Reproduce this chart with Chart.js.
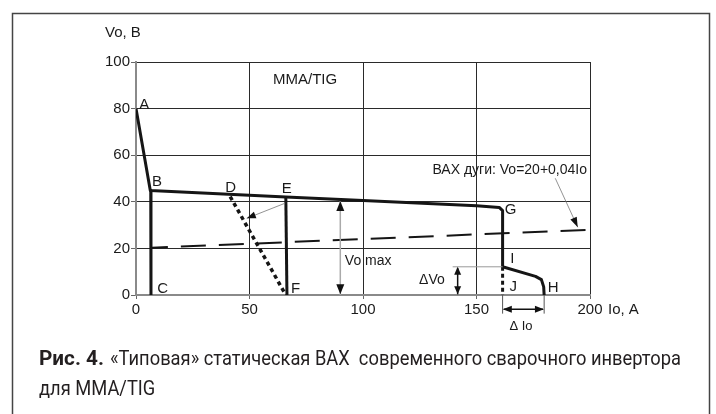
<!DOCTYPE html>
<html>
<head>
<meta charset="utf-8">
<script src="https://cdn.jsdelivr.net/npm/chart.js@4"></script>
<style>
html, body { margin: 0; padding: 0; background: #fff; }
canvas { display: block; }
</style>
</head>
<body>
<canvas id="vax" width="716" height="414"></canvas>
<script>
// ticks
const xTicks = [0, 50, 100, 150, 200]
const yTicks = [0, 20, 40, 60, 80, 100]

// main curve A - B - E - G - I - H
const mainIo = [0, 6.3, 66, 100, 150, 160, 161.5, 161.5, 176, 178.6, 179.6, 179.8]
const mainVo = [80, 44.8, 42.1, 40.6, 38.3, 37.6, 36.2, 12.1, 8, 6.6, 3.5, 0]
// B - C
const bcIo = [6.5, 6.6]
const bcVo = [44.8, 0]
// E - F
const efIo = [66, 66.5]
const efVo = [42.1, 0]
// D - F (dotted)
const dfIo = [41.5, 66]
const dfVo = [42.2, 0]
// I - J (dotted)
const ijIo = [161.5, 161.5]
const ijVo = [12.1, 0]
// arc line Vo=20+0,04Io (dashed)
const arcIo = [7, 200]
const arcVo = [20.3, 28]

// point names
const pointNames = ['A', 'B', 'C', 'D', 'E', 'F', 'G', 'I', 'J', 'H']
const nameIo = [3.6, 9.2, 11.8, 41.7, 66.4, 70.3, 165, 165.8, 166.2, 183.8]
const nameVo = [81.6, 48.4, 2.8, 46, 45.6, 2.8, 36.6, 15.6, 3.3, 3.1]

const toXY = (xs, ys) => xs.map((v, i) => ({ x: v, y: ys[i] }))

function line(label, xs, ys, width, dash, offset) {
    return {
        label: label,
        data: toXY(xs, ys),
        showLine: true,
        borderColor: '#151515',
        borderWidth: width,
        borderDash: dash || [],
        borderDashOffset: offset || 0,
        borderJoinStyle: 'round',
        borderCapStyle: 'butt',
        pointRadius: 0,
        fill: false
    }
}

function arrowHead(ctx, fx, fy, tx, ty, len, half) {
    const a = Math.atan2(ty - fy, tx - fx)
    ctx.beginPath()
    ctx.moveTo(tx, ty)
    ctx.lineTo(tx - len * Math.cos(a) + half * Math.sin(a), ty - len * Math.sin(a) - half * Math.cos(a))
    ctx.lineTo(tx - len * Math.cos(a) - half * Math.sin(a), ty - len * Math.sin(a) + half * Math.cos(a))
    ctx.closePath()
    ctx.fill()
}

const extras = {
    id: 'extras',
    afterDraw(chart) {
        const { ctx, scales: { x, y } } = chart
        const px = v => x.getPixelForValue(v)
        const py = v => y.getPixelForValue(v)
        ctx.save()

        // frame
        ctx.strokeStyle = '#444'
        ctx.lineWidth = 1.5
        ctx.strokeRect(12.5, 13.5, 697, 430)

        ctx.fillStyle = '#1a1a1a'
        ctx.textBaseline = 'middle'

        // axis titles
        ctx.font = '15px "Liberation Sans", Arial, sans-serif'
        ctx.textAlign = 'left'
        ctx.fillText('Vo, B', 105, 33)
        ctx.fillText('Io, A', 608, 310)
        ctx.fillText('MMA/TIG', 273, 80)

        // point names
        ctx.font = '15px "Liberation Sans", Arial, sans-serif'
        ctx.textAlign = 'center'
        pointNames.forEach((n, i) => ctx.fillText(n, px(nameIo[i]), py(nameVo[i])))

        // other labels
        ctx.textAlign = 'left'
        ctx.font = '14px "Liberation Sans", Arial, sans-serif'
        ctx.fillText('ВАХ дуги: Vo=20+0,04Io', px(130.6), py(53.4))
        ctx.fillText('Vo max', px(92), py(14.6))
        ctx.fillText('ΔVo', px(124.7), py(6.4))
        ctx.font = '13px "Liberation Sans", Arial, sans-serif'
        ctx.textAlign = 'center'
        ctx.fillText('Δ Io', px(169.6), py(-13.4))

        // Vo max arrow
        ctx.strokeStyle = '#aaa'
        ctx.lineWidth = 1.5
        ctx.beginPath(); ctx.moveTo(px(90), py(40.3)); ctx.lineTo(px(90), py(0)); ctx.stroke()
        ctx.fillStyle = '#111'
        arrowHead(ctx, px(90), py(20), px(90), py(40.3), 10, 4)
        arrowHead(ctx, px(90), py(20), px(90), py(0.3), 10, 4)

        // ΔVo arrow
        ctx.strokeStyle = '#999'
        ctx.lineWidth = 1
        ctx.beginPath(); ctx.moveTo(px(139.5), py(12.1)); ctx.lineTo(px(161.5), py(12.1)); ctx.stroke()
        ctx.strokeStyle = '#111'
        ctx.lineWidth = 1.5
        ctx.beginPath(); ctx.moveTo(px(141.7), py(11.5)); ctx.lineTo(px(141.7), py(0.3)); ctx.stroke()
        arrowHead(ctx, px(141.7), py(6), px(141.7), py(12.1), 8, 3.5)
        arrowHead(ctx, px(141.7), py(6), px(141.7), py(0.3), 8, 3.5)

        // ΔIo arrow
        ctx.strokeStyle = '#555'
        ctx.lineWidth = 1
        ctx.beginPath()
        ctx.moveTo(px(161.5), py(0)); ctx.lineTo(px(161.5), py(-8))
        ctx.moveTo(px(179.8), py(0)); ctx.lineTo(px(179.8), py(-8))
        ctx.stroke()
        ctx.strokeStyle = '#111'
        ctx.lineWidth = 1.5
        ctx.beginPath(); ctx.moveTo(px(162), py(-6.1)); ctx.lineTo(px(179.3), py(-6.1)); ctx.stroke()
        arrowHead(ctx, px(170), py(-6.1), px(161.6), py(-6.1), 9, 3.5)
        arrowHead(ctx, px(170), py(-6.1), px(179.7), py(-6.1), 9, 3.5)

        // leader to arc line
        ctx.strokeStyle = '#777'
        ctx.lineWidth = 0.8
        ctx.beginPath(); ctx.moveTo(px(184.7), py(50.1)); ctx.lineTo(px(194.6), py(29.1)); ctx.stroke()
        arrowHead(ctx, px(184.7), py(50.1), px(194.6), py(29.1), 10, 3.5)

        // leader from E to D-F line
        ctx.beginPath(); ctx.moveTo(px(65.7), py(39.4)); ctx.lineTo(px(48.8), py(32.9)); ctx.stroke()
        arrowHead(ctx, px(65.7), py(39.4), px(48.8), py(32.9), 9, 3.5)

        // caption
        ctx.fillStyle = '#231f20'
        ctx.textBaseline = 'alphabetic'
        ctx.textAlign = 'left'
        const boldFont = 'bold 21px Roboto, sans-serif'
        const regFont = '21px Roboto, sans-serif'
        const cap1 = 'Рис. 4.'
        const cap2 = '«Типовая» статическая ВАХ  современного сварочного инвертора'
        const cap3 = 'для MMA/TIG'
        ctx.font = boldFont
        const kb = 65 / ctx.measureText(cap1).width
        ctx.font = regFont
        const kr = 571 / ctx.measureText(cap2).width
        ctx.save(); ctx.translate(39, 365); ctx.scale(kb, 1); ctx.font = boldFont; ctx.fillText(cap1, 0, 0); ctx.restore()
        ctx.save(); ctx.translate(110, 365); ctx.scale(kr, 1); ctx.font = regFont; ctx.fillText(cap2, 0, 0); ctx.restore()
        ctx.save(); ctx.translate(39, 395); ctx.scale(kr, 1); ctx.font = regFont; ctx.fillText(cap3, 0, 0); ctx.restore()

        ctx.restore()
    }
}

const gridColor = c => c.tick && c.tick.value === 0 ? 'rgba(0,0,0,0)' : '#2a2a2a'

const ctx = document.getElementById('vax').getContext('2d')
const myChart = new Chart(ctx, {
    type: 'scatter',
    data: {
        datasets: [
            line('A-B-G-I-H', mainIo, mainVo, 3),
            line('B-C', bcIo, bcVo, 3),
            line('E-F', efIo, efVo, 3),
            line('D-F', dfIo, dfVo, 3.5, [4, 3.5]),
            line('I-J', ijIo, ijVo, 3, [4, 3]),
            line('Vo=20+0,04Io', arcIo, arcVo, 2, [25, 13], 9)
        ]
    },
    options: {
        responsive: false,
        animation: false,
        layout: { padding: { left: 0, top: 62, right: 126, bottom: 0 } },
        plugins: {
            legend: { display: false },
            tooltip: { enabled: false }
        },
        scales: {
            x: {
                type: 'linear',
                min: 0,
                max: 200,
                afterBuildTicks: s => { s.ticks = xTicks.map(v => ({ value: v })) },
                afterFit: s => { s.height = 119 },
                grid: { color: gridColor, lineWidth: 1, tickLength: 4, tickColor: '#666' },
                border: { color: '#8a8a8a', width: 2 },
                ticks: { color: '#1a1a1a', padding: 2, font: { family: '"Liberation Sans", Arial', size: 15 } }
            },
            y: {
                type: 'linear',
                min: 0,
                max: 100,
                afterBuildTicks: s => { s.ticks = yTicks.map(v => ({ value: v })) },
                afterFit: s => { s.width = 136 },
                grid: { color: gridColor, lineWidth: 1, tickLength: 5, tickColor: '#666' },
                border: { color: '#8a8a8a', width: 2 },
                ticks: { color: '#1a1a1a', padding: 1, font: { family: '"Liberation Sans", Arial', size: 15 } }
            }
        }
    },
    plugins: [extras]
})
</script>
</body>
</html>
